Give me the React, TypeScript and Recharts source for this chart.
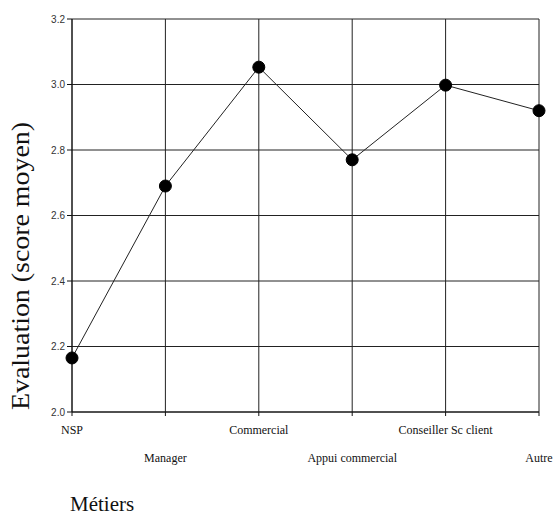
import React from 'react';
import { LineChart, Line, XAxis, YAxis, CartesianGrid } from 'recharts';

const metiers = ['NSP', 'Manager', 'Commercial', 'Appui commercial', 'Conseiller Sc client', 'Autre'];
const scores = [2.165, 2.69, 3.053, 2.77, 2.998, 2.92];
const yTicks = [2.0, 2.2, 2.4, 2.6, 2.8, 3.0, 3.2];

const data = metiers.map((m, i) => ({ metier: m, score: scores[i] }));

const serif = '"Liberation Serif", "Times New Roman", serif';
const sans = '"Liberation Sans", Arial, sans-serif';

const MetierTick = (props: any) => {
  const { x, y, payload, index } = props;
  const low = index % 2 === 1;
  return (
    <text x={x} y={y + (low ? 44 : 16)} textAnchor="middle" fontFamily={serif} fontSize={12} fill="#111">
      {payload.value}
    </text>
  );
};

export default function App() {
  return (
    <div style={{ position: 'absolute', left: 0, top: 0, width: 555, height: 515, background: '#fff' }}>
      <LineChart width={555} height={515} data={data} margin={{ top: 19, right: 16, bottom: 43, left: 22 }}>
        <CartesianGrid stroke="#222" strokeWidth={1} />
        <XAxis
          dataKey="metier"
          height={60}
          interval={0}
          stroke="#111"
          tickSize={4}
          tick={<MetierTick />}
          label={{
            content: () => (
              <text x={70} y={511} fontFamily={serif} fontSize={21} fill="#111">Métiers</text>
            ),
          }}
        />
        <YAxis
          domain={[2, 3.2]}
          ticks={yTicks}
          width={50}
          stroke="#111"
          tickSize={5}
          tickFormatter={(v: number) => v.toFixed(1)}
          tick={{ fontFamily: sans, fontSize: 10, fill: '#333' }}
          label={{
            content: () => (
              <text
                x={29}
                y={266}
                transform="rotate(-90 29 266)"
                textAnchor="middle"
                fontFamily={serif}
                fontSize={25}
                textLength={288}
                lengthAdjust="spacingAndGlyphs"
                fill="#111"
              >
                Evaluation (score moyen)
              </text>
            ),
          }}
        />
        <Line
          dataKey="score"
          type="linear"
          stroke="#222"
          strokeWidth={1}
          dot={{ r: 6, fill: '#000', stroke: '#000', strokeWidth: 1 }}
          isAnimationActive={false}
        />
      </LineChart>
    </div>
  );
}
